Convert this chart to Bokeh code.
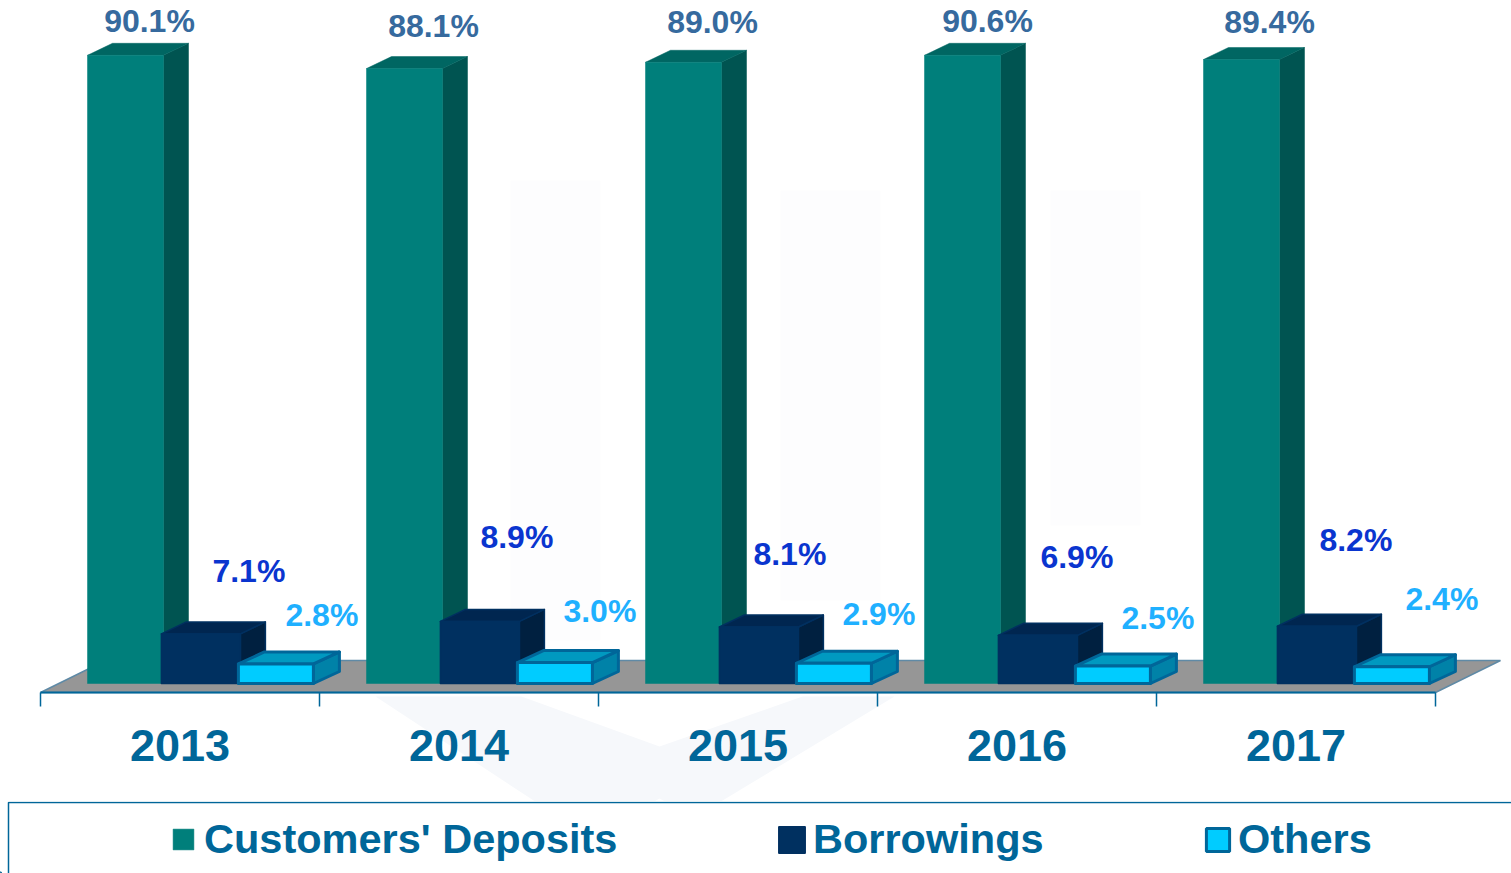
from bokeh.plotting import figure
from bokeh.embed import file_html
from bokeh.resources import INLINE
from bokeh.layouts import column
from bokeh.models import FixedTicker, Range1d, Legend, LegendItem, NumeralTickFormatter
from bokeh.core.properties import value

years = [2013, 2014, 2015, 2016, 2017]
deposits = [90.1, 88.1, 89.0, 90.6, 89.4]
borrowings = [7.1, 8.9, 8.1, 6.9, 8.2]
others = [2.8, 3.0, 2.9, 2.5, 2.4]
series_names = ["Customers' Deposits", "Borrowings", "Others"]
AXIS_MAX = 90.0  # the picture's value axis clips the tallest bars here

# label nudges relative to each bar's top-front centre (px)
dep_dx = [24, 29, 29, 25, 28]
dep_dy = [34, 43, 40, 34, 37]
bor_dx = [48, 37, 31, 39, 39]
bor_dy = [63, 84, 73, 78, 86]
oth_dx = [46, 45, 45, 45, 50]
oth_dy = [49, 52, 49, 48, 68]

FONT = "Liberation Sans"
W, H1, H2 = 1511, 801, 72
PX_X, PX_Y = 279.0, 6.98
LEFT_PAD, BASE_PX = 40, 683     # x of year boundary 2012.5, y of value 0, px from the top-left
FLOOR_PX = 9

x0 = 2012.5 - LEFT_PAD / PX_X
y_top = BASE_PX / PX_Y
y_bot = (BASE_PX - H1) / PX_Y
y_floor = -FLOOR_PX / PX_Y

p = figure(width=W, height=H1, output_backend="svg", toolbar_location=None,
           x_range=Range1d(x0, x0 + W / PX_X), y_range=Range1d(y_bot, y_top),
           y_axis_location=None, min_border=0,
           outline_line_color=None, background_fill_color="white", border_fill_color=None)
p.grid.visible = False


def ux(px):
    return px / PX_X


def uy(px):
    return px / PX_Y


def page_x(px):
    return x0 + px / PX_X


def page_y(py):
    return (BASE_PX - py) / PX_Y


# faint watermark behind the chart
wm_xs = [[page_x(v) for v in poly] for poly in (
    [375, 521, 659, 802, 894, 694, 659, 625, 559],
    [510, 600, 600, 510],
    [780, 880, 880, 780],
    [1050, 1140, 1140, 1050],
)]
wm_ys = [[page_y(v) for v in poly] for poly in (
    [696, 696, 746, 696, 696, 817, 798, 817, 817],
    [180, 180, 640, 640],
    [190, 190, 600, 600],
    [190, 190, 525, 525],
)]
p.patches(wm_xs, wm_ys, fill_color=["#f6f8fb", "#fdfdfe", "#fdfdfe", "#fdfdfe"], line_color=None)

# floor
fl_dx, fl_dy = ux(65), uy(32)
fl_l, fl_r = 2012.5, 2017.5
p.patch([fl_l, fl_r, fl_r + fl_dx, fl_l + fl_dx],
        [y_floor, y_floor, y_floor + fl_dy, y_floor + fl_dy],
        fill_color="#969696", line_color="#5f8aa6", line_width=1.5)


def box(vals, left_px, width_px, dx_px, dy_px, front, top, side, line, lw):
    """vals → 3D box: top and side faces as patches, front face as vbar."""
    vals = [min(v, AXIS_MAX) for v in vals]
    offs = ux(left_px)
    w = ux(width_px)
    dx, dy = ux(dx_px), uy(dy_px)
    lefts = [y + offs for y in years]
    top_xs = [[l, l + w, l + w + dx, l + dx] for l in lefts]
    top_ys = [[v, v, v + dy, v + dy] for v in vals]
    side_xs = [[l + w, l + w + dx, l + w + dx, l + w] for l in lefts]
    side_ys = [[0, dy, v + dy, v] for v in vals]
    kw = dict(line_join="round")
    p.patches(side_xs, side_ys, fill_color=side, line_color=line or side, line_width=lw, **kw)
    p.patches(top_xs, top_ys, fill_color=top, line_color=line or top, line_width=lw, **kw)
    p.vbar(x=[l + w / 2 for l in lefts], top=vals, bottom=0, width=w,
           fill_color=front, line_color=line or front, line_width=lw, line_join="round")
    return lefts, w, vals


dep_geo = box(deposits, -92.5, 76, 25, 12, "#007f7b", "#006662", "#005451", None, 0.5)
bor_geo = box(borrowings, -18.6, 79, 25, 12, "#003060", "#002650", "#002040", "#003060", 1.5)
oth_geo = box(others, 58.4, 75, 26, 12, "#00ccff", "#0099c0", "#0082a8", "#006699", 3)


def labels(geo, txts, dxs, dys, color):
    lefts, w, vals = geo
    p.text(x=[l + w / 2 for l in lefts], y=vals, text=txts, x_offset=dxs,
           y_offset=[-d for d in dys], text_color=color, text_align="center",
           text_baseline="middle", text_font=value(FONT), text_font_style="bold",
           text_font_size="32px")


labels(dep_geo, [f"{v:.1f}%" for v in deposits], dep_dx, dep_dy, "#366a9e")
labels(bor_geo, [f"{v:.1f}%" for v in borrowings], bor_dx, bor_dy, "#0a35cf")
labels(oth_geo, [f"{v:.1f}%" for v in others], oth_dx, oth_dy, "#1fb0ff")

ax = p.xaxis[0]
ax.fixed_location = y_floor
ax.ticker = FixedTicker(ticks=years, minor_ticks=[y - 0.5 for y in years] + [years[-1] + 0.5])
ax.formatter = NumeralTickFormatter(format="0")
ax.bounds = (fl_l, fl_r)
ax.axis_line_color = "#006699"
ax.axis_line_width = 2
ax.major_tick_line_color = None
ax.major_tick_out = 0
ax.major_tick_in = 0
ax.minor_tick_line_color = "#006699"
ax.minor_tick_line_width = 1.5
ax.minor_tick_out = 14
ax.minor_tick_in = 0
ax.major_label_standoff = 23
ax.major_label_text_font = FONT
ax.major_label_text_font_style = "bold"
ax.major_label_text_font_size = "45px"
ax.major_label_text_color = "#006699"

# legend strip
q = figure(width=W, height=H2, output_backend="svg", toolbar_location=None,
           x_range=Range1d(0, W), y_range=Range1d(0, H2),
           x_axis_location=None, y_axis_location=None, min_border=0,
           outline_line_color=None, background_fill_color="white", border_fill_color=None)
q.grid.visible = False
q.line([8, 8, W], [0, H2 - 1, H2 - 1], line_color="#006699", line_width=1.5)

leg_specs = [
    (series_names[0], "#007f7b", "#007f7b", 0.5, 170, 26, 8),
    (series_names[1], "#003060", "#003060", 1.5, 775, 33, 5),
    (series_names[2], "#00ccff", "#006699", 3, 1203, 29, 6),
]
for name, fc, lc, lw, lx, gw, stand in leg_specs:
    # the bar sits outside the visible range: only its legend swatch shows
    r = q.vbar(x=[-100], top=[1], width=1, fill_color=fc, line_color=lc, line_width=lw)
    q.add_layout(Legend(items=[LegendItem(label=name, renderers=[r])], location=(lx, 10),
                        orientation="horizontal", padding=0, margin=0, border_line_color=None,
                        background_fill_color=None, background_fill_alpha=0, glyph_width=gw,
                        glyph_height=gw, label_standoff=stand, label_text_font=FONT,
                        label_text_font_style="bold", label_text_font_size="41.5px",
                        label_text_color="#006699"))

open("out.html", "w").write(file_html(column(p, q, spacing=0), INLINE))
